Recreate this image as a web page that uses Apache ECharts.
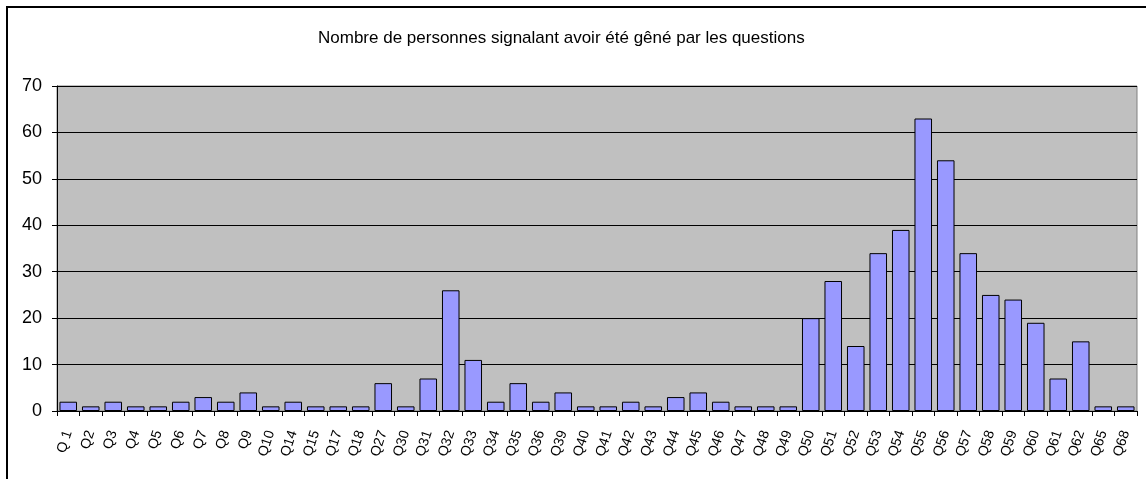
<!DOCTYPE html>
<html>
<head>
    <meta charset="UTF-8">
    <title>Nombre de personnes gênées par question</title>
    <style>
        html, body { margin: 0; padding: 0; background: #fff; overflow: hidden; }
        #frame { position: absolute; left: 6px; top: 6px; width: 1200px; height: 520px; border: 2px solid #000; }
        #main { position: absolute; left: 0; top: 0; width: 1146px; height: 479px; }
    </style>
</head>
<body>
<div id="frame"></div>
<div id="main"></div>
<script src="https://cdn.jsdelivr.net/npm/echarts@6/dist/echarts.min.js"></script>
<script>
    // questions (axe des x)
    var questions = ['Q 1','Q2','Q3','Q4','Q5','Q6','Q7','Q8','Q9','Q10','Q14','Q15','Q17','Q18','Q27','Q30',
        'Q31','Q32','Q33','Q34','Q35','Q36','Q39','Q40','Q41','Q42','Q43','Q44','Q45','Q46','Q47','Q48',
        'Q49','Q50','Q51','Q52','Q53','Q54','Q55','Q56','Q57','Q58','Q59','Q60','Q61','Q62','Q65','Q68'];
    // nombre de personnes
    var counts = [2,1,2,1,1,2,3,2,4,1,2,1,1,1,6,1,
        7,26,11,2,6,2,4,1,1,2,1,3,4,2,1,1,
        1,20,28,14,34,39,63,54,34,25,24,19,7,15,1,1];
    var titre = 'Nombre de personnes signalant avoir été gêné par les questions';

    var myChart = echarts.init(document.getElementById('main'));
    var option = {
        animation: false,
        textStyle: { fontFamily: 'Liberation Sans, Arial, sans-serif' },
        title: {
            text: titre,
            left: 313,
            top: 25,
            textStyle: { fontSize: 17, fontWeight: 'normal', color: '#000' }
        },
        grid: {
            left: 57, right: 9, top: 86, bottom: 68,
            show: true,
            backgroundColor: '#C0C0C0',
            borderColor: '#808080',
            borderWidth: 1
        },
        xAxis: {
            type: 'category',
            data: questions,
            axisLine: { lineStyle: { color: '#000', width: 1 } },
            axisTick: { show: true, length: 5, alignWithLabel: false, lineStyle: { color: '#000' } },
            axisLabel: {
                interval: 0,
                rotate: 72,
                margin: 20,
                fontSize: 14,
                color: '#000'
            }
        },
        yAxis: {
            type: 'value',
            min: 0, max: 70, interval: 10,
            axisLine: { show: true, lineStyle: { color: '#000', width: 1 } },
            axisTick: { show: true, length: 5, lineStyle: { color: '#000' } },
            axisLabel: { fontSize: 18, color: '#000', margin: 15 },
            splitLine: { show: true, lineStyle: { color: '#000', width: 1 } }
        },
        series: [{
            type: 'bar',
            data: counts,
            barCategoryGap: '22%',
            itemStyle: { color: '#9999FF', borderColor: '#000', borderWidth: 1 }
        }]
    };
    myChart.setOption(option);
</script>
</body>
</html>
